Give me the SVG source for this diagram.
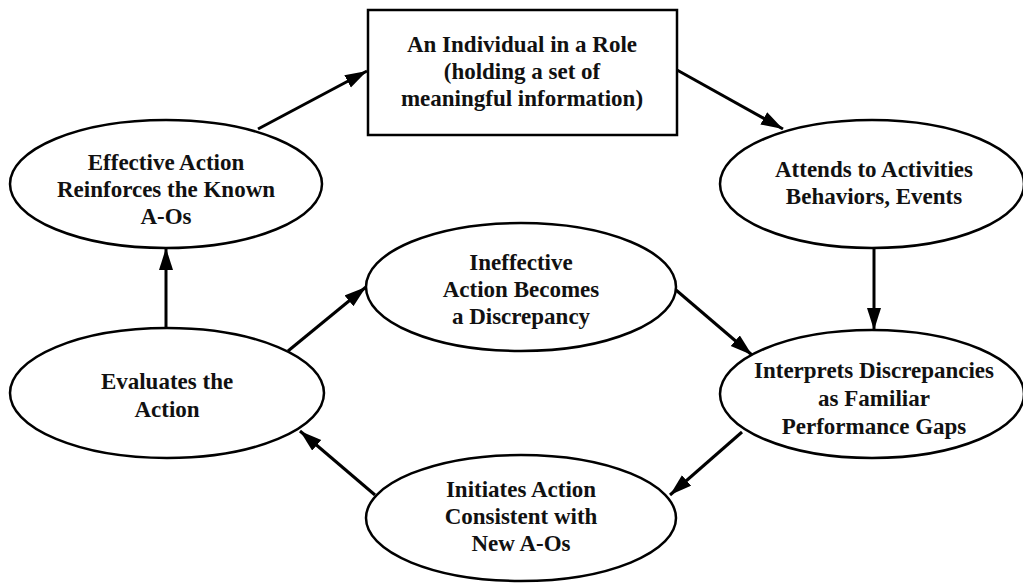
<svg xmlns="http://www.w3.org/2000/svg" width="1023" height="583" viewBox="0 0 1023 583">
<style>
.n{fill:#fff;stroke:#000;stroke-width:2.5}
.t{font-family:"Liberation Serif","Times New Roman",serif;font-weight:bold;font-size:23px;text-anchor:middle;fill:#111}
.c{stroke:#000;stroke-width:3;fill:none;marker-end:url(#ah)}
</style>
<defs>
<marker id="ah" markerUnits="userSpaceOnUse" markerWidth="24" markerHeight="16" refX="22" refY="7" orient="auto">
<path d="M0,0 L22,7 L0,14 Z" fill="#000"/>
</marker>
</defs>
<rect width="1023" height="583" fill="#fff"/>
<g id="connectors">
<line class="c" x1="258" y1="129" x2="367" y2="71"/>
<line class="c" x1="677" y1="70" x2="783" y2="129"/>
<line class="c" x1="874" y1="248" x2="874" y2="330"/>
<line class="c" x1="676" y1="290" x2="752" y2="355"/>
<line class="c" x1="742" y1="432" x2="670" y2="495"/>
<line class="c" x1="375" y1="495" x2="300" y2="431"/>
<line class="c" x1="288" y1="351" x2="366" y2="287"/>
<line class="c" x1="166" y1="328" x2="166" y2="248"/>
</g>
<g id="role">
<rect class="n" x="368" y="10" width="309" height="125"/>
<text class="t" x="522" y="52">An Individual in a Role</text>
<text class="t" x="522" y="79">(holding a set of</text>
<text class="t" x="522" y="106">meaningful information)</text>
</g>
<g id="effective">
<ellipse class="n" cx="166" cy="184" rx="156" ry="64"/>
<text class="t" x="166" y="170">Effective Action</text>
<text class="t" x="166" y="197">Reinforces the Known</text>
<text class="t" x="166" y="224">A-Os</text>
</g>
<g id="attends">
<ellipse class="n" cx="872" cy="184" rx="152" ry="64"/>
<text class="t" x="874" y="177">Attends to Activities</text>
<text class="t" x="874" y="204">Behaviors, Events</text>
</g>
<g id="ineffective">
<ellipse class="n" cx="521" cy="287" rx="155" ry="64"/>
<text class="t" x="521" y="270">Ineffective</text>
<text class="t" x="521" y="297">Action Becomes</text>
<text class="t" x="521" y="324">a Discrepancy</text>
</g>
<g id="evaluates">
<ellipse class="n" cx="167" cy="393" rx="157" ry="65"/>
<text class="t" x="167" y="389">Evaluates the</text>
<text class="t" x="167" y="417">Action</text>
</g>
<g id="interprets">
<ellipse class="n" cx="872" cy="394" rx="152" ry="64"/>
<text class="t" x="874" y="378">Interprets Discrepancies</text>
<text class="t" x="874" y="406">as Familiar</text>
<text class="t" x="874" y="434">Performance Gaps</text>
</g>
<g id="initiates">
<ellipse class="n" cx="521" cy="518" rx="155" ry="63"/>
<text class="t" x="521" y="497">Initiates Action</text>
<text class="t" x="521" y="524">Consistent with</text>
<text class="t" x="521" y="551">New A-Os</text>
</g>
</svg>
